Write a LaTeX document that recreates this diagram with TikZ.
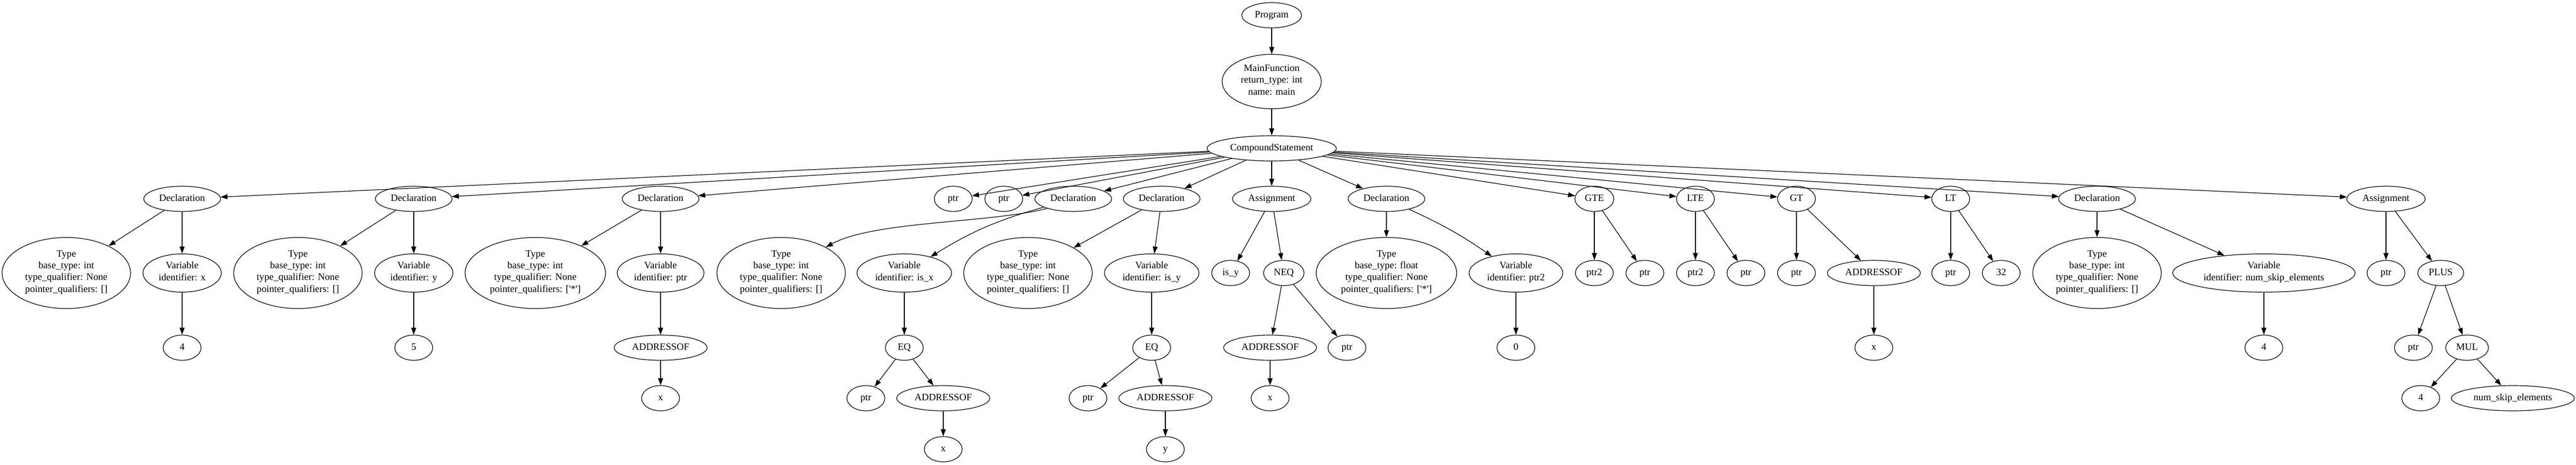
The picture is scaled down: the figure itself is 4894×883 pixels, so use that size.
\documentclass[tikz,border=0pt]{standalone}
\usepackage{fontspec}
\setmainfont{Liberation Serif}[Ligatures=NoCommon]
\usetikzlibrary{shapes.geometric,arrows.meta}
\newcommand{\sq}{\textquotesingle}
\begin{document}
\begin{tikzpicture}[x=0.75pt,y=-0.75pt,
  nd/.style={draw,ellipse,line width=0.9pt,inner xsep=6pt,inner ysep=3.5pt,
    minimum width=54pt,minimum height=36pt,align=center,
    font=\fontsize{14pt}{16.8pt}\selectfont,
    execute at begin node=\strut,execute at end node=\strut},
  arr/.style={-{Triangle[length=10pt,width=7pt]},line width=0.9pt}]
\useasboundingbox (0,0) rectangle (4894,883);
% rank 0-2
\node[nd] (n0) at (2416,29) {Program};
\node[nd] (n1) at (2416,155) {MainFunction\\return\_type: int\\name: main};
\node[nd] (n2) at (2416,282) {CompoundStatement};
% rank 3
\node[nd] (d1) at (346,378) {Declaration};
\node[nd] (d2) at (786,378) {Declaration};
\node[nd] (d3) at (1255,378) {Declaration};
\node[nd] (p1) at (1811,378) {ptr};
\node[nd] (p2) at (1907,378) {ptr};
\node[nd] (d4) at (2039,378) {Declaration};
\node[nd] (d5) at (2207,378) {Declaration};
\node[nd] (a1) at (2416,378) {Assignment};
\node[nd] (d6) at (2634,378) {Declaration};
\node[nd] (gte) at (3029,378) {GTE};
\node[nd] (lte) at (3221,378) {LTE};
\node[nd] (gt) at (3413,378) {GT};
\node[nd] (lt) at (3706,378) {LT};
\node[nd] (d7) at (3984,378) {Declaration};
\node[nd] (a2) at (4533,378) {Assignment};
% rank 4
\node[nd] (t1) at (126,519) {Type\\base\_type: int\\type\_qualifier: None\\pointer\_qualifiers: []};
\node[nd] (v1) at (346,519) {Variable\\identifier: x};
\node[nd] (t2) at (566,519) {Type\\base\_type: int\\type\_qualifier: None\\pointer\_qualifiers: []};
\node[nd] (v2) at (786,519) {Variable\\identifier: y};
\node[nd] (t3) at (1017,519) {Type\\base\_type: int\\type\_qualifier: None\\pointer\_qualifiers: [\sq*\sq]};
\node[nd] (v3) at (1255,519) {Variable\\identifier: ptr};
\node[nd] (t4) at (1484,519) {Type\\base\_type: int\\type\_qualifier: None\\pointer\_qualifiers: []};
\node[nd] (v4) at (1718,519) {Variable\\identifier: is\_x};
\node[nd] (t5) at (1953,519) {Type\\base\_type: int\\type\_qualifier: None\\pointer\_qualifiers: []};
\node[nd] (v5) at (2188,519) {Variable\\identifier: is\_y};
\node[nd] (isy) at (2338,519) {is\_y};
\node[nd] (neq) at (2439,519) {NEQ};
\node[nd] (t6) at (2634,519) {Type\\base\_type: float\\type\_qualifier: None\\pointer\_qualifiers: [\sq*\sq]};
\node[nd] (v6) at (2880,519) {Variable\\identifier: ptr2};
\node[nd] (g1) at (3029,519) {ptr2};
\node[nd] (g2) at (3125,519) {ptr};
\node[nd] (l1) at (3221,519) {ptr2};
\node[nd] (l2) at (3317,519) {ptr};
\node[nd] (gt1) at (3413,519) {ptr};
\node[nd] (gt2) at (3560,519) {ADDRESSOF};
\node[nd] (lt1) at (3706,519) {ptr};
\node[nd] (lt2) at (3802,519) {32};
\node[nd] (t7) at (3984,519) {Type\\base\_type: int\\type\_qualifier: None\\pointer\_qualifiers: []};
\node[nd] (v7) at (4301,519) {Variable\\identifier: num\_skip\_elements};
\node[nd] (a2p) at (4533,519) {ptr};
\node[nd] (plus) at (4637,519) {PLUS};
% rank 5
\node[nd] (c1) at (346,661) {4};
\node[nd] (c2) at (786,661) {5};
\node[nd] (ad3) at (1255,661) {ADDRESSOF};
\node[nd] (eq1) at (1718,661) {EQ};
\node[nd] (eq2) at (2188,661) {EQ};
\node[nd] (ad4) at (2413,661) {ADDRESSOF};
\node[nd] (np) at (2559,661) {ptr};
\node[nd] (c0) at (2880,661) {0};
\node[nd] (gx) at (3560,661) {x};
\node[nd] (c4) at (4301,661) {4};
\node[nd] (pp) at (4585,661) {ptr};
\node[nd] (mul) at (4687,661) {MUL};
% rank 6
\node[nd] (x3) at (1255,757) {x};
\node[nd] (e1p) at (1645,757) {ptr};
\node[nd] (e1a) at (1792,757) {ADDRESSOF};
\node[nd] (e2p) at (2067,757) {ptr};
\node[nd] (e2a) at (2214,757) {ADDRESSOF};
\node[nd] (nx) at (2413,757) {x};
\node[nd] (m4) at (4599,757) {4};
\node[nd] (mn) at (4774,757) {num\_skip\_elements};
% rank 7
\node[nd] (ex1) at (1792,854) {x};
\node[nd] (ey) at (2214,854) {y};
% edges
\draw[arr] (n0) -- (n1);
\draw[arr] (n1) -- (n2);
\foreach \c in {d1,d2,d3,p1,p2,d4,d5,a1,d6,gte,lte,gt,lt,d7,a2}
  \draw[arr] (n2) -- (\c);
\draw[arr] (d1) -- (t1); \draw[arr] (d1) -- (v1); \draw[arr] (v1) -- (c1);
\draw[arr] (d2) -- (t2); \draw[arr] (d2) -- (v2); \draw[arr] (v2) -- (c2);
\draw[arr] (d3) -- (t3); \draw[arr] (d3) -- (v3); \draw[arr] (v3) -- (ad3); \draw[arr] (ad3) -- (x3);
\draw[arr] (d4.200) .. controls +(-105,28) and +(90,-50) .. (t4.30);
\draw[arr] (d4) to[bend right=8] (v4);
\draw[arr] (v4) -- (eq1); \draw[arr] (eq1) -- (e1p); \draw[arr] (eq1) -- (e1a); \draw[arr] (e1a) -- (ex1);
\draw[arr] (d5) -- (t5); \draw[arr] (d5) -- (v5); \draw[arr] (v5) -- (eq2);
\draw[arr] (eq2) -- (e2p); \draw[arr] (eq2) -- (e2a); \draw[arr] (e2a) -- (ey);
\draw[arr] (a1) -- (isy); \draw[arr] (a1) -- (neq); \draw[arr] (neq) -- (ad4); \draw[arr] (neq) -- (np); \draw[arr] (ad4) -- (nx);
\draw[arr] (d6) -- (t6); \draw[arr] (d6) to[bend left=5] (v6); \draw[arr] (v6) -- (c0);
\draw[arr] (gte) -- (g1); \draw[arr] (gte) -- (g2);
\draw[arr] (lte) -- (l1); \draw[arr] (lte) -- (l2);
\draw[arr] (gt) -- (gt1); \draw[arr] (gt) -- (gt2); \draw[arr] (gt2) -- (gx);
\draw[arr] (lt) -- (lt1); \draw[arr] (lt) -- (lt2);
\draw[arr] (d7) -- (t7); \draw[arr] (d7) -- (v7); \draw[arr] (v7) -- (c4);
\draw[arr] (a2) -- (a2p); \draw[arr] (a2) -- (plus); \draw[arr] (plus) -- (pp); \draw[arr] (plus) -- (mul);
\draw[arr] (mul) -- (m4); \draw[arr] (mul) -- (mn);
\end{tikzpicture}
\end{document}
